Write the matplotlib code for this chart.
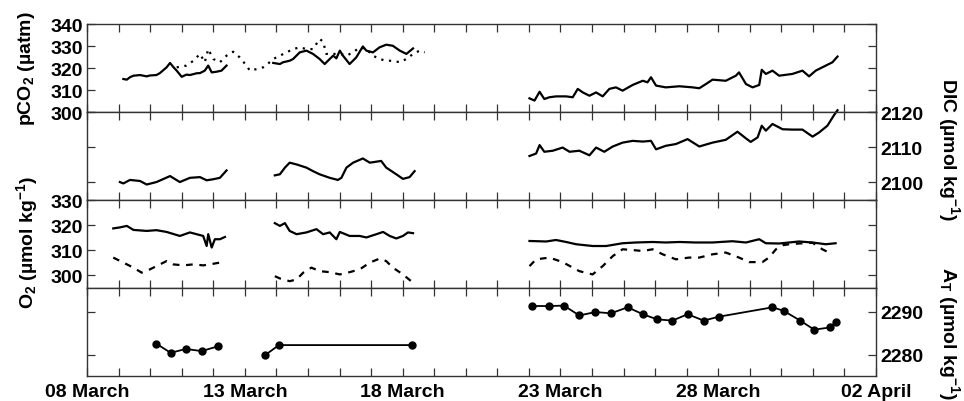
import matplotlib
matplotlib.use('Agg')
import matplotlib.pyplot as plt
import numpy as np

plt.rcParams['font.family'] = ['Liberation Sans', 'DejaVu Sans']
plt.rcParams['font.weight'] = 'bold'
plt.rcParams['mathtext.fontset'] = 'custom'
plt.rcParams['mathtext.rm'] = 'Liberation Sans:bold'
plt.rcParams['mathtext.bf'] = 'Liberation Sans:bold'
plt.rcParams['mathtext.it'] = 'Liberation Sans:bold'
plt.rcParams['mathtext.default'] = 'rm'

# x axis: day of March (02 April = 33)
tick_days = [8, 13, 18, 23, 28, 33]
tick_labels = ['08 March', '13 March', '18 March', '23 March', '28 March', '02 April']

# pCO2 (uatm), solid record, three pieces
pco2_t = [
    [9.15, 9.26, 9.36, 9.47, 9.68, 9.89, 9.99, 10.20, 10.31, 10.52, 10.63, 10.73,
     10.84, 11.00, 11.15, 11.26, 11.47, 11.58, 11.73, 11.84, 11.95, 12.10, 12.26, 12.42],
    [13.90, 14.11, 14.21, 14.42, 14.53, 14.74, 14.95, 15.16, 15.37, 15.53, 15.69, 15.80,
     15.90, 16.01, 16.11, 16.32, 16.53, 16.74, 16.85, 17.06, 17.27, 17.48, 17.69, 17.91,
     18.12, 18.33],
    [22.02, 22.18, 22.34, 22.49, 22.65, 22.86, 23.18, 23.39, 23.55, 23.71, 23.92, 24.13,
     24.34, 24.55, 24.76, 24.97, 25.29, 25.61, 25.76, 25.87, 26.03, 26.34, 26.77, 27.19,
     27.40, 27.61, 27.82, 28.24, 28.56, 28.66, 28.88, 29.09, 29.30, 29.38, 29.51, 29.72,
     29.93, 30.35, 30.67, 30.88, 31.09, 31.41, 31.62, 31.78],
]
pco2_v = [
    [315.0, 314.7, 315.8, 316.5, 316.8, 316.2, 316.6, 316.8, 317.7, 320.3, 322.3, 320.5,
     318.8, 316.0, 317.0, 316.8, 317.6, 317.7, 318.8, 321.1, 318.0, 318.3, 318.8, 321.1],
    [322.3, 321.8, 322.6, 323.3, 324.1, 327.1, 327.9, 326.4, 324.1, 321.8, 324.1, 325.6,
     324.4, 327.9, 325.6, 321.8, 324.8, 329.8, 327.9, 327.1, 329.4, 330.6, 330.1, 327.9,
     326.4, 328.9],
    [306.2, 305.2, 309.2, 305.9, 306.7, 307.1, 307.1, 306.7, 310.5, 308.9, 307.4, 308.9,
     307.1, 310.5, 311.2, 309.7, 312.3, 314.2, 313.5, 315.8, 312.0, 311.2, 311.7, 311.2,
     310.8, 312.7, 314.7, 314.2, 316.5, 318.0, 312.7, 311.2, 312.3, 319.2, 317.3, 318.8,
     316.5, 317.3, 318.8, 316.2, 318.8, 321.1, 322.6, 325.2],
]

# pCO2 second record (dotted)
pco2b_t = [10.84, 11.15, 11.37, 11.58, 11.73, 11.84, 12.00, 12.21, 12.42, 12.63, 12.84,
           13.05, 13.16, 13.37, 13.58, 13.69, 13.90, 14.11, 14.32, 14.53, 14.74, 14.95,
           15.16, 15.37, 15.48, 15.58, 15.80, 16.01, 16.22, 16.43, 16.64, 16.85, 17.06,
           17.27, 17.48, 17.69, 17.91, 18.12, 18.33, 18.54, 18.70]
pco2b_v = [320.3, 321.1, 323.3, 326.4, 322.6, 328.6, 324.1, 322.6, 325.6, 327.4, 324.8,
           321.1, 318.8, 319.5, 320.3, 321.4, 324.1, 325.6, 327.1, 328.6, 329.4, 328.6,
           328.6, 333.2, 332.0, 326.4, 326.4, 326.4, 325.6, 327.1, 329.4, 328.6, 325.6,
           324.1, 323.3, 323.3, 322.6, 324.1, 326.4, 327.9, 327.1]

# DIC (umol/kg)
dic_t = [
    [9.04, 9.15, 9.36, 9.68, 9.89, 10.20, 10.63, 10.94, 11.26, 11.58, 11.79, 12.00,
     12.21, 12.42],
    [13.95, 14.11, 14.27, 14.42, 14.64, 14.95, 15.16, 15.37, 15.69, 15.95, 16.06, 16.22,
     16.43, 16.74, 16.96, 17.32, 17.48, 17.80, 18.01, 18.22, 18.38],
    [22.02, 22.23, 22.34, 22.49, 22.76, 23.07, 23.29, 23.60, 23.92, 24.13, 24.39, 24.66,
     24.97, 25.29, 25.61, 25.87, 26.03, 26.34, 26.66, 27.03, 27.40, 27.82, 28.24, 28.61,
     28.88, 29.03, 29.25, 29.38, 29.51, 29.72, 30.04, 30.35, 30.67, 30.99, 31.20, 31.46,
     31.67, 31.78],
]
dic_v = [
    [2100.1, 2099.7, 2100.7, 2100.4, 2099.4, 2100.1, 2101.8, 2100.1, 2101.3, 2101.5,
     2100.6, 2100.9, 2101.3, 2103.4],
    [2102.0, 2102.3, 2104.2, 2105.6, 2105.1, 2104.2, 2103.2, 2102.3, 2101.3, 2100.7,
     2101.3, 2104.2, 2105.6, 2106.8, 2105.6, 2106.1, 2104.2, 2102.3, 2101.0, 2101.5,
     2103.2],
    [2107.5, 2108.2, 2110.6, 2108.7, 2109.0, 2109.9, 2108.7, 2109.0, 2107.7, 2109.9,
     2108.7, 2110.2, 2111.3, 2111.8, 2111.6, 2111.8, 2109.4, 2110.4, 2110.9, 2112.3,
     2110.2, 2111.3, 2112.1, 2114.4, 2112.5, 2111.5, 2112.8, 2116.1, 2114.7, 2116.6,
     2115.1, 2115.0, 2115.0, 2113.0, 2114.2, 2116.1, 2119.1, 2120.5],
]

# O2 (umol/kg), solid record
o2_t = [
    [8.83, 9.04, 9.26, 9.47, 9.89, 10.20, 10.52, 10.94, 11.26, 11.47, 11.68, 11.79,
     11.84, 11.95, 12.05, 12.21, 12.37],
    [13.95, 14.11, 14.27, 14.42, 14.64, 14.95, 15.27, 15.48, 15.69, 15.90, 16.01, 16.32,
     16.64, 16.85, 17.17, 17.38, 17.59, 17.80, 18.01, 18.17, 18.33],
    [22.02, 22.55, 22.86, 23.18, 23.50, 24.02, 24.45, 24.97, 25.39, 25.92, 26.34, 26.77,
     27.29, 27.82, 28.45, 28.88, 29.30, 29.51, 29.93, 30.56, 30.99, 31.41, 31.72],
]
o2_v = [
    [318.7, 319.1, 319.7, 318.1, 317.7, 318.0, 317.3, 315.7, 317.1, 316.4, 315.7, 311.7,
     316.4, 311.1, 314.4, 314.4, 315.3],
    [320.8, 319.7, 320.8, 317.7, 316.4, 317.1, 318.4, 316.4, 317.1, 314.4, 317.3, 315.7,
     315.7, 315.1, 316.4, 317.3, 315.7, 314.7, 315.7, 317.1, 316.8],
    [313.7, 313.5, 314.1, 313.3, 312.4, 311.7, 311.7, 312.8, 313.1, 313.3, 313.1, 313.3,
     313.1, 313.1, 313.6, 313.1, 314.4, 312.8, 312.7, 313.5, 313.1, 312.4, 312.8],
]

# O2 second record (dashed)
o2b_t = [
    [8.83, 9.15, 9.47, 9.73, 9.99, 10.31, 10.52, 10.73, 11.05, 11.37, 11.68, 11.89,
     12.21, 12.37],
    [13.95, 14.11, 14.42, 14.64, 14.85, 15.11, 15.37, 15.69, 16.01, 16.32, 16.64, 16.96,
     17.27, 17.48, 17.69, 18.01, 18.27],
    [22.02, 22.23, 22.65, 23.07, 23.39, 23.60, 24.02, 24.34, 24.66, 24.97, 25.29, 25.61,
     25.92, 26.24, 26.66, 27.08, 27.40, 27.82, 28.24, 28.66, 28.98, 29.40, 29.61, 29.83,
     30.04, 30.25, 30.56, 30.99, 31.30, 31.51],
]
o2b_v = [
    [307.1, 305.1, 303.1, 301.1, 302.4, 304.4, 305.7, 304.4, 304.0, 304.4, 304.0, 304.4,
     305.1, 304.8],
    [299.7, 298.8, 297.7, 298.4, 301.1, 303.1, 301.7, 301.3, 300.4, 301.3, 302.4, 305.1,
     306.7, 305.7, 303.1, 300.4, 297.7],
    [303.7, 306.4, 307.1, 305.3, 303.1, 301.7, 300.4, 303.7, 307.7, 310.4, 310.1, 309.7,
     310.4, 308.4, 306.4, 307.1, 307.1, 308.4, 309.1, 307.1, 305.3, 305.3, 307.1, 310.4,
     312.0, 312.4, 312.7, 313.0, 310.4, 309.1],
]

# total alkalinity (umol/kg), discrete samples
at_t = [
    [10.20, 10.65, 11.13, 11.63, 12.14],
    [13.63, 14.08, 18.31],
    [22.10, 22.65, 23.11, 23.60, 24.11, 24.60, 25.13, 25.61, 26.06, 26.55, 27.03, 27.54,
     28.01, 29.72, 30.07, 30.60, 31.04, 31.54, 31.72],
]
at_v = [
    [2282.5, 2280.4, 2281.3, 2280.8, 2281.9],
    [2279.8, 2282.2, 2282.2],
    [2291.3, 2291.3, 2291.4, 2289.1, 2289.9, 2289.6, 2291.0, 2289.4, 2288.2, 2287.9,
     2289.4, 2287.9, 2288.8, 2291.0, 2290.2, 2287.9, 2285.8, 2286.3, 2287.5],
]

fig, axes = plt.subplots(4, 1, sharex=True, figsize=(9.64, 4.02), dpi=100)
fig.subplots_adjust(left=0.0903, right=0.9087, top=0.9378, bottom=0.0622, hspace=0)
ax1, ax2, ax3, ax4 = axes

lw = 1.6
for t, v in zip(pco2_t, pco2_v):
    ax1.plot(t, v, color='k', lw=lw)
ax1.plot(pco2b_t, pco2b_v, color='k', lw=lw, linestyle=(0, (1, 2.5)))

for t, v in zip(dic_t, dic_v):
    ax2.plot(t, v, color='k', lw=lw, clip_on=False)

for t, v in zip(o2_t, o2_v):
    ax3.plot(t, v, color='k', lw=lw)
for t, v in zip(o2b_t, o2b_v):
    ax3.plot(t, v, color='k', lw=lw, linestyle=(0, (3, 3)))

for t, v in zip(at_t, at_v):
    ax4.plot(t, v, color='k', lw=1.3, marker='o', ms=5)

# axes limits and ticks
ax1.set_ylim(300, 340)
ax1.set_yticks([300, 310, 320, 330, 340])
ax2.set_ylim(2095, 2120)
ax2.set_yticks([2100, 2110, 2120])
ax3.set_ylim(295, 330)
ax3.set_yticks([300, 310, 320, 330])
ax4.set_ylim(2275, 2295.5)
ax4.set_yticks([2280, 2290])

ax4.set_xlim(8, 33)
ax4.set_xticks(tick_days)
ax4.set_xticklabels(tick_labels)
ax4.set_xticks(np.arange(8, 34), minor=True)

for i, ax in enumerate(axes):
    ax.tick_params(axis='both', which='both', direction='in', top=True, bottom=True,
                   left=True, right=True, length=6, width=0.9, labelsize=14, pad=3,
                   color='#333333')
    ax.tick_params(axis='x', pad=5)
    if i % 2 == 0:
        ax.tick_params(axis='y', labelleft=True, labelright=False)
    else:
        ax.tick_params(axis='y', labelleft=False, labelright=True)
    for s in ax.spines.values():
        s.set_linewidth(1.0)
        s.set_color('#333333')

fig.text(0.028, 1 - 69 / 402, 'pCO$_2$ (µatm)', rotation=90, ha='center', va='center',
         fontsize=14)
fig.text(0.028, 1 - 242 / 402, 'O$_2$ (µmol kg$^{-1}$)', rotation=90, ha='center',
         va='center', fontsize=14)
fig.text(0.984, 1 - 150 / 402, 'DIC (µmol kg$^{-1}$)', rotation=270, ha='center',
         va='center', fontsize=14)
fig.text(0.984, 1 - 333 / 402, 'A$_T$ (µmol kg$^{-1}$)', rotation=270, ha='center',
         va='center', fontsize=14)

plt.savefig('out.png', dpi=100)
